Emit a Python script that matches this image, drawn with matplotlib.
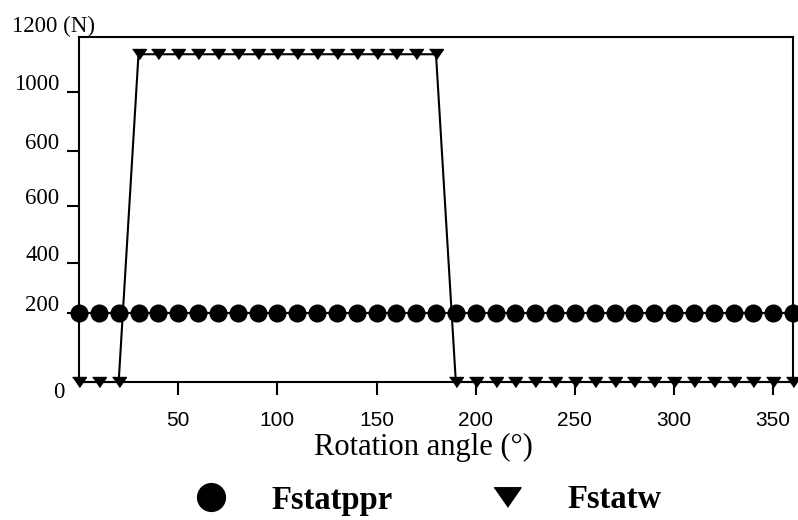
import matplotlib
matplotlib.use('Agg')
import matplotlib.pyplot as plt
from matplotlib.lines import Line2D
from matplotlib.transforms import ScaledTranslation

# rotation angle (deg) and static forces
angles = [0, 10, 20, 30, 40, 50, 60, 70, 80, 90, 100, 110, 120, 130, 140, 150, 160, 170, 180,
          190, 200, 210, 220, 230, 240, 250, 260, 270, 280, 290, 300, 310, 320, 330, 340, 350, 360]
fstatppr = [200, 200, 200, 200, 200, 200, 200, 200, 200, 200, 200, 200, 200, 200, 200, 200, 200, 200, 200,
            200, 200, 200, 200, 200, 200, 200, 200, 200, 200, 200, 200, 200, 200, 200, 200, 200, 200]
fstatw = [0, 0, 0, 950, 950, 950, 950, 950, 950, 950, 950, 950, 950, 950, 950, 950, 950, 950, 950,
          0, 0, 0, 0, 0, 0, 0, 0, 0, 0, 0, 0, 0, 0, 0, 0, 0, 0]

# tick positions on the (oddly labelled) original y axis
ytick_pos = [200, 345, 510, 670, 840]
ytick_labels = ['200', '400', '600', '600', '1000']
xtick_pos = [50, 100, 150, 200, 250, 300, 350]

serif = 'Liberation Serif'
sans = 'Liberation Sans'
tri = [(-1, 0.72), (1, 0.72), (0, -0.72)]

fig = plt.figure(figsize=(7.98, 5.2), dpi=100)
ax = fig.add_axes([79/798, 1-382/520, (793-79)/798, (382-37)/520])

ax.plot(angles, fstatppr, color='black', lw=1.5, marker='o', markersize=12,
        clip_on=False, zorder=3)
ax.plot(angles, fstatw, color='black', lw=1.5, marker=tri, markersize=10,
        clip_on=False, zorder=3)

ax.set_xlim(0, 360)
ax.set_ylim(0, 1000)
for s in ax.spines.values():
    s.set_linewidth(1.5)

ax.set_xticks(xtick_pos, [str(v) for v in xtick_pos])
ax.set_yticks(ytick_pos, ytick_labels)
ax.tick_params(axis='both', direction='out', length=9, width=1.5)
ax.tick_params(axis='x', pad=12, labelsize=15)
ax.tick_params(axis='y', pad=5, labelsize=16.5)
for lab in ax.get_xticklabels():
    lab.set_family(sans)
offset = ScaledTranslation(0, 0.10, fig.dpi_scale_trans)
for lab in ax.get_yticklabels():
    lab.set_family(serif)
    lab.set_transform(lab.get_transform() + offset)

fig.text(65/798, 1-392/520, '0', ha='right', va='center', fontsize=16.5, family=serif)
fig.text(12/798, 1-26/520, '1200 (N)', ha='left', va='center', fontsize=16.5, family=serif)

ax.set_xlabel('Rotation angle (°)', fontsize=22, family=serif)
ax.xaxis.set_label_coords((423-79)/714, -(447-382)/345)
ax.xaxis.label.set_va('center')

handles = [Line2D([0], [0], color='black', ls='none', marker='o', markersize=20, label='Fstatppr'),
           Line2D([0], [0], color='black', ls='none', marker=tri, markersize=19.5, label='Fstatw')]
fig.legend(handles=handles, loc='center', bbox_to_anchor=(420/798, 1-500/520), ncol=2,
           frameon=False, prop={'family': serif, 'weight': 'bold', 'size': 23.5},
           handlelength=2.0, handletextpad=0.85, columnspacing=2.5)

fig.savefig('out.png', dpi=100)
